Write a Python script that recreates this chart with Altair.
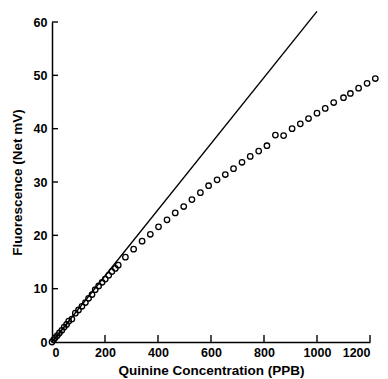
import altair as alt
import pandas as pd

conc = [0, 6, 12, 20, 28, 37, 46, 55, 63, 75, 88, 100, 113, 126, 138, 151, 163, 176, 189,
        201, 214, 226, 239, 250, 277, 308, 340, 371, 402, 434, 465, 497, 528, 560, 591,
        623, 654, 685, 717, 748, 780, 811, 843, 874, 906, 937, 968, 1000, 1031, 1063,
        1100, 1126, 1157, 1189, 1220]
fluor = [0, 0.4, 0.8, 1.2, 1.7, 2.2, 2.8, 3.3, 3.9, 4.3, 5.4, 6.0, 6.7, 7.4, 8.2, 8.9, 9.8,
         10.5, 11.2, 11.8, 12.5, 13.2, 13.8, 14.4, 15.9, 17.4, 18.9, 20.2, 21.6, 22.9, 24.2,
         25.4, 26.7, 28.0, 29.3, 30.4, 31.4, 32.5, 33.7, 34.8, 35.8, 36.8, 38.8, 38.7, 40.0,
         40.9, 41.9, 42.9, 43.8, 44.9, 45.8, 46.6, 47.6, 48.5, 49.4]
line_x = [0, 1000]
line_y = [0, 62]
x_ticks = [200, 400, 600, 800, 1000, 1200]
y_ticks = [10, 20, 30, 40, 50, 60]

W, H = 318, 320
FONT = "Liberation Sans"

pts = pd.DataFrame({"c": conc, "f": fluor})
ln = pd.DataFrame({"c": line_x, "f": line_y})
xt = pd.DataFrame({"v": x_ticks})
yt = pd.DataFrame({"v": y_ticks})

xs = alt.Scale(domain=[0, 1200], nice=False, zero=False)
ys = alt.Scale(domain=[0, 60], nice=False, zero=False)

xaxis = alt.Axis(values=[0, 200, 400, 600, 800, 1000, 1200], ticks=False, grid=False,
                 format="d", labelPadding=4, titlePadding=5,
                 title="Quinine Concentration (PPB)")
yaxis = alt.Axis(values=[0, 10, 20, 30, 40, 50, 60], ticks=False, grid=False,
                 format="d", labelPadding=5, titlePadding=9,
                 title="Fluorescence (Net mV)")

points = alt.Chart(pts).mark_point(shape="circle", filled=False, color="black",
                                   size=30, strokeWidth=1.3, opacity=1).encode(
    x=alt.X("c:Q", scale=xs, axis=xaxis),
    y=alt.Y("f:Q", scale=ys, axis=yaxis),
)

line = alt.Chart(ln).mark_line(color="black", strokeWidth=1.4, clip=False).encode(
    x=alt.X("c:Q", scale=xs),
    y=alt.Y("f:Q", scale=ys),
)

xtick = alt.Chart(xt).mark_rule(color="black", strokeWidth=1.4).encode(
    x=alt.X("v:Q", scale=xs),
    y=alt.value(H),
    y2=alt.value(H - 7),
)
ytick = alt.Chart(yt).mark_rule(color="black", strokeWidth=1.4).encode(
    y=alt.Y("v:Q", scale=ys),
    x=alt.value(0),
    x2=alt.value(6),
)

chart = alt.layer(line, points, xtick, ytick).properties(
    width=W, height=H,
    autosize=alt.AutoSizeParams(type="none"),
    padding={"left": 44, "top": 14, "right": 10, "bottom": 40},
).configure_view(stroke=None).configure_axis(
    domainColor="black", domainWidth=1.5,
    labelFont=FONT, titleFont=FONT, labelFontSize=12.5, titleFontSize=13.5,
    labelFontWeight="bold", titleFontWeight="bold",
    labelColor="black", titleColor="black",
)

chart.save("out.html", embed_options={"renderer": "svg", "actions": False})
